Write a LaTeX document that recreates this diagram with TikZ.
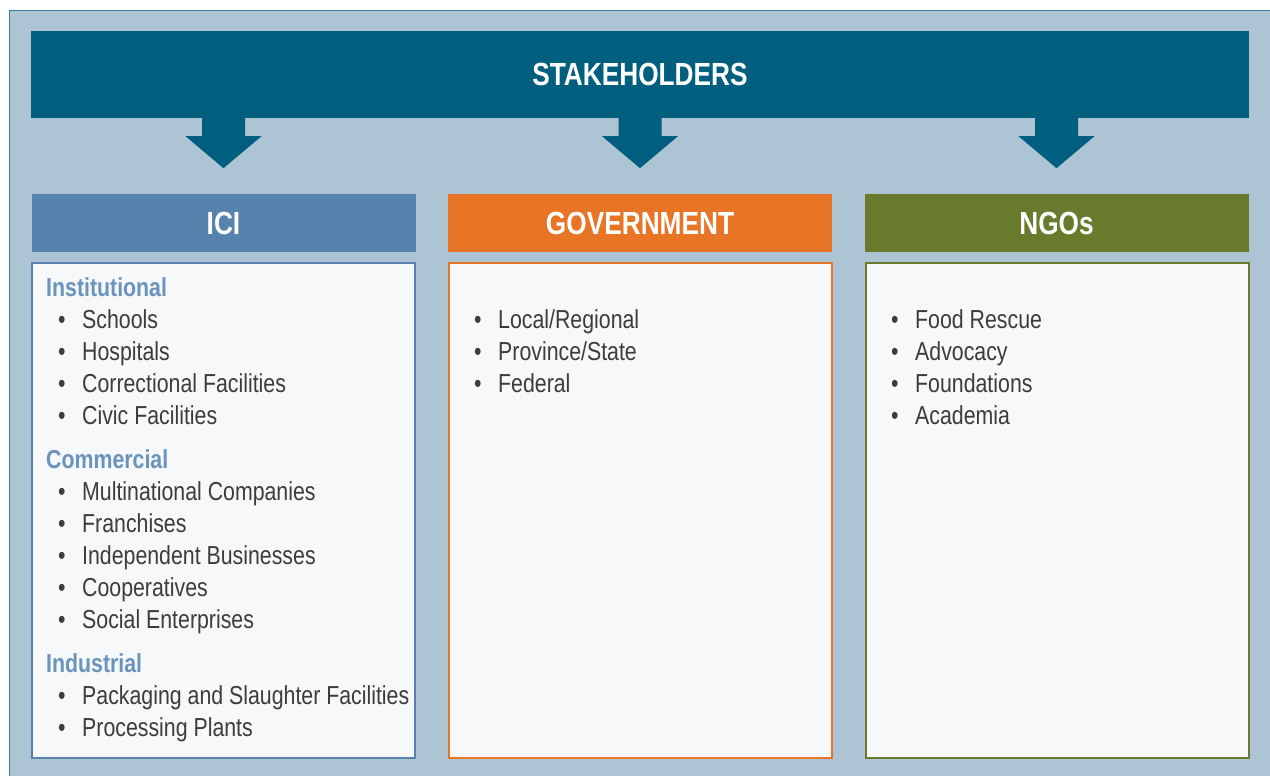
\documentclass[tikz,border=0pt]{standalone}
\usepackage{fontspec}
\setmainfont{Liberation Sans}[FakeStretch=0.82]
\usetikzlibrary{calc}
\definecolor{bgblue}{RGB}{173,196,212}
\definecolor{framecol}{RGB}{52,122,153}
\definecolor{bannercol}{RGB}{0,95,127}
\definecolor{icicol}{RGB}{86,130,173}
\definecolor{govcol}{RGB}{232,116,37}
\definecolor{ngocol}{RGB}{104,122,44}
\definecolor{boxfill}{RGB}{247,248,250}
\definecolor{subblue}{RGB}{106,147,189}
\definecolor{itemgray}{RGB}{60,60,60}
\tikzset{header/.style={inner sep=0pt, text=white,
           font=\fontsize{32}{36}\selectfont\bfseries,
           minimum width=384pt, minimum height=58pt}}
\tikzset{listbox/.style={fill=boxfill, line width=2pt, inner sep=0pt,
           minimum width=383pt, minimum height=495pt}}
\tikzset{group/.style={anchor=base west, inner sep=0pt, text=subblue,
           font=\fontsize{26}{32}\selectfont\bfseries}}
\tikzset{item/.style={anchor=base west, inner sep=0pt, text=itemgray,
           font=\fontsize{26}{32}\selectfont}}
\newcommand{\bul}{\makebox[24pt][l]{\textbullet}}

\begin{document}
\begin{tikzpicture}[x=1pt, y=-1pt]
    \useasboundingbox (0,0) rectangle (1270,776);
    \fill[bgblue] (9,10) rectangle (1270,776);
    \draw[framecol, line width=1.5pt] (9.5,776) -- (9.5,10.5) -- (1270,10.5);

    % banner and the three column heads
    \node[header, fill=bannercol, minimum width=1218pt, minimum height=87pt]
      (stake) at (640,74.5) {STAKEHOLDERS};
    \node[header, fill=icicol] (ici) at (223.5,223) {ICI};
    \node[header, fill=govcol] (gov) at (640,223) {GOVERNMENT};
    \node[header, fill=ngocol] (ngo) at (1056.5,223) {NGOs};

    \foreach \col in {ici, gov, ngo}
      \fill[bannercol] (stake.south -| \col.north) ++(-21.5,-1) -- ++(0,19)
        -- ++(-16.5,0) -- ++(38,32) -- ++(38,-32) -- ++(-16.5,0) -- ++(0,-19) -- cycle;

    \node[listbox, draw=icicol] (iciBox) at (223.5,510.5) {};
    \node[listbox, draw=govcol] (govBox) at (640,510.5) {};
    \node[listbox, draw=ngocol] (ngoBox) at (1057,510.5) {};

    % ICI
    \node[group] (inst) at (46,296) {Institutional};
    \foreach \txt [count=\i] in {Schools, Hospitals, Correctional Facilities, Civic Facilities}
      \node[item] (inst\i) at (58,{296+32*\i}) {\bul\txt};
    \node[group] (comm) at (46,468) {Commercial};
    \foreach \txt [count=\i] in {Multinational Companies, Franchises,
        Independent Businesses, Cooperatives, Social Enterprises}
      \node[item] (comm\i) at (58,{468+32*\i}) {\bul\txt};
    \node[group] (indu) at (46,672) {Industrial};
    \foreach \txt [count=\i] in {Packaging and Slaughter Facilities, Processing Plants}
      \node[item] (indu\i) at (58,{672+32*\i}) {\bul\txt};

    % government
    \foreach \txt [count=\i] in {Local/Regional, Province/State, Federal}
      \node[item] (gov\i) at (474,{296+32*\i}) {\bul\txt};

    % NGOs
    \foreach \txt [count=\i] in {Food Rescue, Advocacy, Foundations, Academia}
      \node[item] (ngo\i) at (891,{296+32*\i}) {\bul\txt};
\end{tikzpicture}
\end{document}
